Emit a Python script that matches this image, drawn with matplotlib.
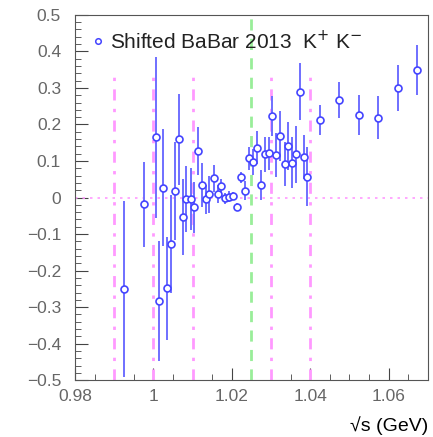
import numpy as np
import matplotlib.pyplot as plt
from matplotlib.ticker import MultipleLocator
from matplotlib.lines import Line2D
plt.switch_backend("agg")

plt.rcParams["font.family"] = ["Liberation Sans", "DejaVu Sans"]

# sqrt(s) in GeV, values and errors
sqrt_s = [0.9925, 0.9976, 1.0006, 1.0015, 1.0025, 1.0036, 1.0044, 1.0055,
          1.0065, 1.0076, 1.0083, 1.0095, 1.0103, 1.0114, 1.0125, 1.0135,
          1.0142, 1.0154, 1.0164, 1.0173, 1.0184, 1.0193, 1.0203, 1.0213,
          1.0224, 1.0235, 1.0245, 1.0254, 1.0264, 1.0275, 1.0286, 1.0295,
          1.0303, 1.0314, 1.0324, 1.0335, 1.0343, 1.0354, 1.0363, 1.0375,
          1.0384, 1.0393, 1.0424, 1.0474, 1.0524, 1.0574, 1.0623, 1.0673]
value = [-0.25, -0.019, 0.165, -0.283, 0.027, -0.249, -0.127, 0.018,
         0.159, -0.053, -0.005, -0.005, -0.027, 0.128, 0.034, -0.005,
         0.009, 0.053, 0.009, 0.032, -0.002, 0.002, 0.004, -0.025,
         0.055, 0.019, 0.107, 0.098, 0.136, 0.034, 0.118, 0.121,
         0.224, 0.116, 0.169, 0.091, 0.141, 0.095, 0.118, 0.29,
         0.11, 0.057, 0.212, 0.267, 0.226, 0.219, 0.30, 0.349]
error = [0.24, 0.117, 0.22, 0.165, 0.16, 0.14, 0.135, 0.135,
         0.125, 0.105, 0.09, 0.085, 0.07, 0.065, 0.06, 0.04,
         0.05, 0.037, 0.025, 0.02, 0.015, 0.015, 0.012, 0.01,
         0.015, 0.025, 0.032, 0.035, 0.045, 0.04, 0.048, 0.045,
         0.055, 0.06, 0.068, 0.06, 0.065, 0.07, 0.078, 0.078,
         0.06, 0.08, 0.042, 0.05, 0.055, 0.06, 0.064, 0.068]

region_lines = [0.99, 1.00, 1.01, 1.03, 1.04]
phi_line = 1.025

fig = plt.figure(figsize=(4.33, 4.37), dpi=100)
ax = fig.add_axes([0.173, 0.130, 0.815, 0.836])

ax.axhline(0, color="#ff99ff", lw=1.2, ls=(0, (1.5, 3)))
for xv in region_lines:
    ax.plot([xv, xv], [-0.5, 0.35], color="#ff99ff", lw=2, ls=(0, (4, 3, 1.2, 3)))
ax.axvline(phi_line, color="#99ee99", lw=2, ls=(0, (4, 3)))

ax.errorbar(sqrt_s, value, yerr=error, fmt="o", color="#6666ff", ecolor="#6f6fff",
            elinewidth=1.4, capsize=0, ms=5, mfc="white", mec="#4444ff", mew=1.2)

ax.set_xlim(0.98, 1.07)
ax.set_ylim(-0.5, 0.5)
ax.xaxis.set_major_locator(MultipleLocator(0.02))
ax.xaxis.set_minor_locator(MultipleLocator(0.005))
ax.yaxis.set_major_locator(MultipleLocator(0.1))
ax.yaxis.set_minor_locator(MultipleLocator(0.02))
ax.tick_params(which="both", direction="in", top=False, right=False,
               labelsize=12.5, labelcolor="#666666", color="#444444")
ax.tick_params(which="major", length=9)
ax.tick_params(which="minor", length=4.5)
ax.tick_params(axis="y", pad=10)
ax.tick_params(axis="x", pad=6)
ax.set_xticks([0.98, 1.0, 1.02, 1.04, 1.06])
ax.set_xticklabels(["0.98", "1", "1.02", "1.04", "1.06"])
ax.set_yticks(np.round(np.arange(-0.5, 0.51, 0.1), 1))
ax.set_yticklabels(["\u22120.5", "\u22120.4", "\u22120.3", "\u22120.2", "\u22120.1", "0",
                    "0.1", "0.2", "0.3", "0.4", "0.5"])
for sp in ax.spines.values():
    sp.set_color("#555555")

ax.set_xlabel("\u221as (GeV)", fontsize=14, loc="right", labelpad=9)

handle = Line2D([], [], ls="none", marker="o", ms=4, mfc="white", mec="#4444ff", mew=1.1)
ax.legend([handle], ["Shifted BaBar 2013  K$^{+}$ K$^{-}$"], loc="upper left",
          frameon=False, fontsize=15, handletextpad=0.2, borderaxespad=0.3,
          handlelength=0.8, labelcolor="#222222")

plt.savefig("out.png", dpi=100)
